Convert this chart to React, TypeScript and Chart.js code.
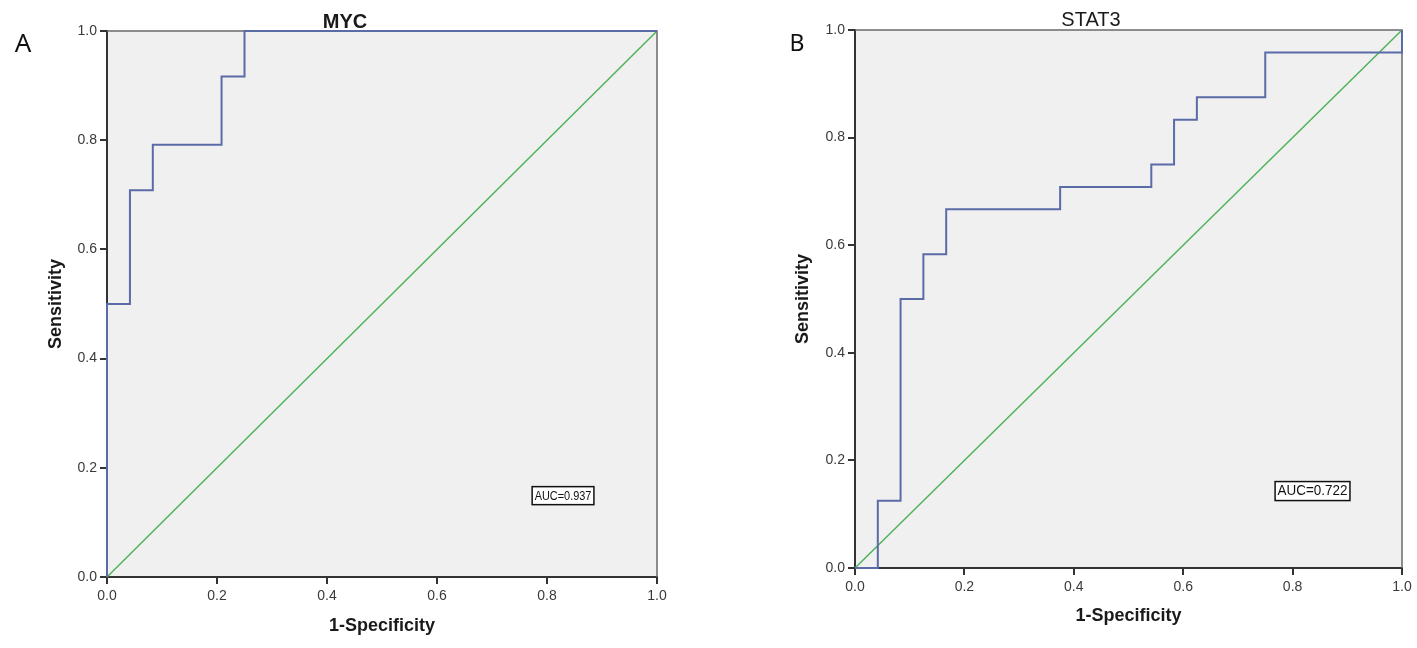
import React, { useEffect, useRef } from "react";
import { Chart, registerables } from "chart.js";

Chart.register(...registerables);

// ---------- data ----------
const TICK_VALUES = [0, 0.2, 0.4, 0.6, 0.8, 1.0];

const mycFpr = [0, 0, 0.0417, 0.0417, 0.0833, 0.0833, 0.2083, 0.2083, 0.25, 0.25, 1.0];
const mycTpr = [0, 0.5, 0.5, 0.7083, 0.7083, 0.7917, 0.7917, 0.9167, 0.9167, 1.0, 1.0];

const stat3Fpr = [0, 0.0417, 0.0417, 0.0833, 0.0833, 0.125, 0.125, 0.1667, 0.1667, 0.375, 0.375, 0.5417, 0.5417, 0.5833, 0.5833, 0.625, 0.625, 0.75, 0.75, 1.0, 1.0];
const stat3Tpr = [0, 0, 0.125, 0.125, 0.5, 0.5, 0.5833, 0.5833, 0.6667, 0.6667, 0.7083, 0.7083, 0.75, 0.75, 0.8333, 0.8333, 0.875, 0.875, 0.9583, 0.9583, 1.0];

const refX = [0, 1];
const refY = [0, 1];

const mycLabel = "AUC=0.937";
const stat3Label = "AUC=0.722";
const mycAucAt = [0.773, 0.149];
const stat3AucAt = [0.768, 0.143];

const xTitle = "1-Specificity";
const yTitle = "Sensitivity";

// ---------- drawing ----------
const SANS = "'Liberation Sans', Arial, sans-serif";

interface PanelProps {
  letter: string;
  title: string;
  fpr: number[];
  tpr: number[];
  auc: string;
  aucAt: number[];
  width: number;
  left: number;
  pad: { left: number; right: number; top: number; bottom: number };
  yW: number;
  xH: number;
  letterPos: [number, number];
  letterSize: number;
  titlePos: [number, number];
  titleFont: string;
  aucSize: number;
  aucSqueeze: number;
}

function Panel(p: PanelProps) {
  const ref = useRef<HTMLCanvasElement | null>(null);
  useEffect(() => {
    const canvas = ref.current;
    if (!canvas) return;

    const deco = {
      id: "deco",
      beforeDraw(chart: any) {
        const { ctx, chartArea: a } = chart;
        ctx.save();
        ctx.fillStyle = "#f0f0f0";
        ctx.fillRect(a.left, a.top, a.right - a.left, a.bottom - a.top);
        ctx.restore();
      },
      beforeDatasetsDraw(chart: any) {
        const { ctx, chartArea: a } = chart;
        ctx.save();
        ctx.strokeStyle = "#6a6a6a";
        ctx.lineWidth = 1.5;
        ctx.beginPath();
        ctx.moveTo(a.left, a.top);
        ctx.lineTo(a.right, a.top);
        ctx.lineTo(a.right, a.bottom);
        ctx.stroke();
        ctx.restore();
      },
      afterDraw(chart: any) {
        const { ctx, scales } = chart;
        ctx.save();
        // panel letter
        ctx.fillStyle = "#111";
        ctx.font = `${p.letterSize}px 'Noto Sans', ${SANS}`;
        ctx.textAlign = "center";
        ctx.textBaseline = "middle";
        ctx.fillText(p.letter, p.letterPos[0], p.letterPos[1]);
        // title
        ctx.font = p.titleFont;
        ctx.fillStyle = "#1a1a1a";
        ctx.fillText(p.title, p.titlePos[0], p.titlePos[1]);
        // AUC box (condensed text)
        const squeeze = p.aucSqueeze;
        ctx.font = `${p.aucSize}px ${SANS}`;
        const tw = ctx.measureText(p.auc).width * squeeze;
        const bx = scales.x.getPixelForValue(p.aucAt[0]);
        const by = scales.y.getPixelForValue(p.aucAt[1]);
        const bw = tw + 5;
        const bh = p.aucSize + 5;
        ctx.fillStyle = "#ffffff";
        ctx.fillRect(bx, by - bh / 2, bw, bh);
        ctx.strokeStyle = "#111";
        ctx.lineWidth = 1.5;
        ctx.strokeRect(bx, by - bh / 2, bw, bh);
        ctx.fillStyle = "#111";
        ctx.textAlign = "left";
        ctx.translate(bx + 2.5, by + 0.5);
        ctx.scale(squeeze, 1);
        ctx.fillText(p.auc, 0, 0);
        ctx.restore();
      },
    };

    const setTicks = (scale: any) => {
      scale.ticks = TICK_VALUES.map((v) => ({ value: v }));
    };

    const axisCommon = {
      type: "linear" as const,
      min: 0,
      max: 1,
      afterBuildTicks: setTicks,
      grid: {
        display: true,
        drawOnChartArea: false,
        drawTicks: true,
        tickLength: 7,
        color: "#333",
        lineWidth: 2,
      },
      border: { display: true, color: "#333", width: 2 },
      ticks: {
        color: "#3a3a3a",
        font: { family: SANS, size: 14 },
        callback: (v: any) => Number(v).toFixed(1),
        maxRotation: 0,
        autoSkip: false,
      },
    };

    const chart = new Chart(canvas, {
      type: "line",
      data: {
        datasets: [
          {
            data: p.fpr.map((x, i) => ({ x, y: p.tpr[i] })),
            borderColor: "#5b6ba8",
            borderWidth: 2,
            pointRadius: 0,
            tension: 0,
            fill: false,
            clip: 4,
          } as any,
          {
            data: refX.map((x, i) => ({ x, y: refY[i] })),
            borderColor: "#4fb35a",
            borderWidth: 1.5,
            pointRadius: 0,
            tension: 0,
            fill: false,
            clip: 4,
          } as any,
        ],
      },
      options: {
        animation: false,
        responsive: false,
        maintainAspectRatio: false,
        layout: { padding: p.pad },
        plugins: {
          legend: { display: false },
          tooltip: { enabled: false },
          title: { display: false },
        },
        scales: {
          x: {
            ...axisCommon,
            ticks: { ...axisCommon.ticks, padding: 4 },
            afterFit: (s: any) => {
              s.height = p.xH;
            },
            title: {
              display: true,
              text: xTitle,
              color: "#1a1a1a",
              font: { family: SANS, size: 18, weight: "bold" },
              padding: { top: 0, bottom: 0 },
            },
          },
          y: {
            ...axisCommon,
            ticks: { ...axisCommon.ticks, padding: 3 },
            afterFit: (s: any) => {
              s.width = p.yW;
            },
            title: {
              display: true,
              text: yTitle,
              color: "#1a1a1a",
              font: { family: SANS, size: 18, weight: "bold" },
              padding: { top: 0, bottom: 0 },
            },
          },
        } as any,
      },
      plugins: [deco],
    });
    return () => chart.destroy();
  }, []);

  return (
    <canvas
      ref={ref}
      width={p.width}
      height={648}
      style={{ position: "absolute", left: p.left, top: 0, width: p.width, height: 648, display: "block" }}
    />
  );
}

export default function App() {
  return (
    <div style={{ position: "absolute", left: 0, top: 0, width: 1417, height: 648, background: "#fff", overflow: "hidden" }}>
      <Panel
        letter="A"
        title="MYC"
        fpr={mycFpr}
        tpr={mycTpr}
        auc={mycLabel}
        aucAt={mycAucAt}
        width={708}
        left={0}
        pad={{ left: 45, right: 51, top: 31, bottom: 11 }}
        yW={62}
        xH={60}
        letterPos={[23, 45]}
        letterSize={26}
        titlePos={[345, 22]}
        titleFont={`bold 20px ${SANS}`}
        aucSize={13}
        aucSqueeze={0.84}
      />
      <Panel
        letter="B"
        title="STAT3"
        fpr={stat3Fpr}
        tpr={stat3Tpr}
        auc={stat3Label}
        aucAt={stat3AucAt}
        width={709}
        left={708}
        pad={{ left: 84, right: 15, top: 30, bottom: 21 }}
        yW={63}
        xH={59}
        letterPos={[89, 44]}
        letterSize={23}
        titlePos={[383, 20]}
        titleFont={`20px ${SANS}`}
        aucSize={14}
        aucSqueeze={0.96}
      />
    </div>
  );
}
